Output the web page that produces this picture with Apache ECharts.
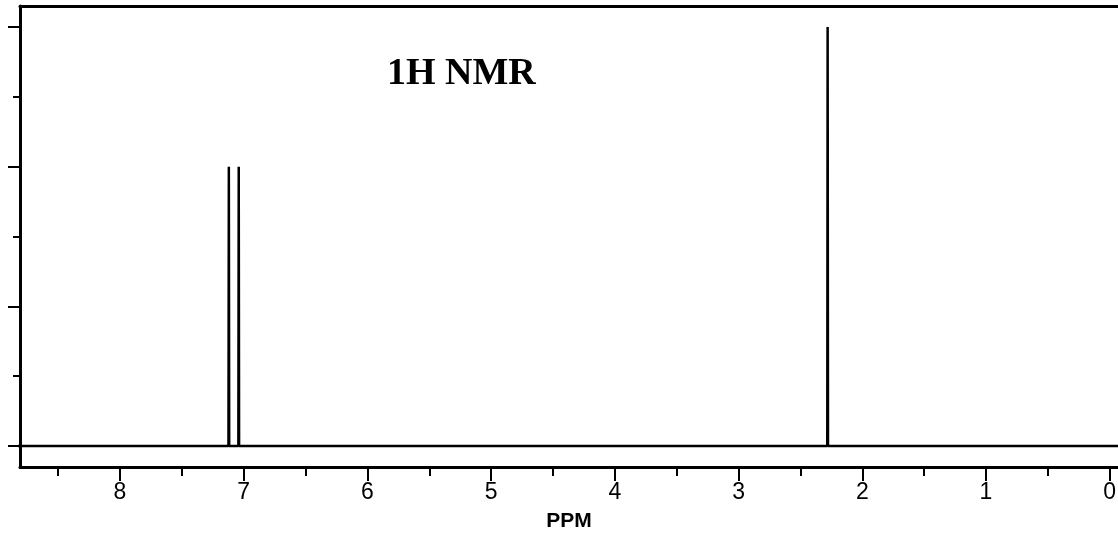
<!DOCTYPE html>
<html>
<head>
<meta charset="utf-8">
<script src="https://cdn.jsdelivr.net/npm/echarts@6/dist/echarts.min.js"></script>
<style>
html,body{margin:0;padding:0;background:#fff;}
#chart{width:1118px;height:534px;}
</style>
</head>
<body>
<div id="chart"></div>
<script>
// Peak positions (ppm) and intensities
const peakPPM = [7.12, 7.04, 2.28];
const peakHeight = [2, 2, 3];
const xMajorTicks = [0, 1, 2, 3, 4, 5, 6, 7, 8];
const xMinorTicks = [0.5, 1.5, 2.5, 3.5, 4.5, 5.5, 6.5, 7.5, 8.5];
const yMajorTicks = [0, 1, 2, 3];
const yMinorTicks = [0.5, 1.5, 2.5];
const xTitle = 'PPM';
const chartTitle = '1H NMR';

// Build stick spectrum from the peaks
const halfWidth = 0.003;
const spectrum = [[9.5, 0]];
peakPPM.forEach((p, i) => {
  spectrum.push([p + halfWidth, 0]);
  spectrum.push([p, peakHeight[i]]);
  spectrum.push([p - halfWidth, 0]);
});
spectrum.push([-1, 0]);

const chart = echarts.init(document.getElementById('chart'));
const lineStyle = {color: '#000', width: 3};
chart.setOption({
  animation: false,
  backgroundColor: '#fff',
  grid: {left: 20, right: 0, top: 6, bottom: 67, containLabel: false, outerBoundsMode: 'none'},
  xAxis: [
    {
      type: 'value', inverse: true, min: -0.067, max: 8.808, position: 'bottom',
      axisLine: {show: true, onZero: false, lineStyle: lineStyle},
      axisTick: {show: true, length: 14, customValues: xMajorTicks, lineStyle: {color: '#000', width: 2}},
      axisLabel: {show: true, customValues: xMajorTicks, margin: 14, color: '#000',
        fontFamily: 'Liberation Sans', fontSize: 23},
      splitLine: {show: false},
      name: xTitle, nameLocation: 'middle', nameGap: 44,
      nameTextStyle: {color: '#000', fontFamily: 'Liberation Sans', fontSize: 21, fontWeight: 'bold'}
    },
    {
      type: 'value', inverse: true, min: -0.067, max: 8.808, position: 'bottom',
      axisLine: {show: false, onZero: false},
      axisTick: {show: true, length: 9, customValues: xMinorTicks, lineStyle: {color: '#000', width: 2}},
      axisLabel: {show: false},
      splitLine: {show: false}
    },
    {
      type: 'value', inverse: true, min: -0.067, max: 8.808, position: 'top',
      axisLine: {show: true, onZero: false, lineStyle: lineStyle},
      axisTick: {show: false}, axisLabel: {show: false}, splitLine: {show: false}
    }
  ],
  yAxis: [
    {
      type: 'value', min: -0.15, max: 3.15, position: 'left',
      axisLine: {show: true, onZero: false, lineStyle: lineStyle},
      axisTick: {show: true, length: 12, customValues: yMajorTicks, lineStyle: {color: '#000', width: 2}},
      axisLabel: {show: false}, splitLine: {show: false}
    },
    {
      type: 'value', min: -0.15, max: 3.15, position: 'left',
      axisLine: {show: false, onZero: false},
      axisTick: {show: true, length: 7, customValues: yMinorTicks, lineStyle: {color: '#000', width: 2}},
      axisLabel: {show: false}, splitLine: {show: false}
    }
  ],
  graphic: [{
    type: 'text', left: 387, top: 55,
    style: {text: chartTitle, fill: '#000', font: 'bold 38px "Liberation Serif"'}
  }],
  series: [{
    type: 'line', xAxisIndex: 0, yAxisIndex: 0,
    data: spectrum, showSymbol: false, symbol: 'none',
    lineStyle: {color: '#000', width: 2.5}, clip: true
  }]
});
</script>
</body>
</html>
